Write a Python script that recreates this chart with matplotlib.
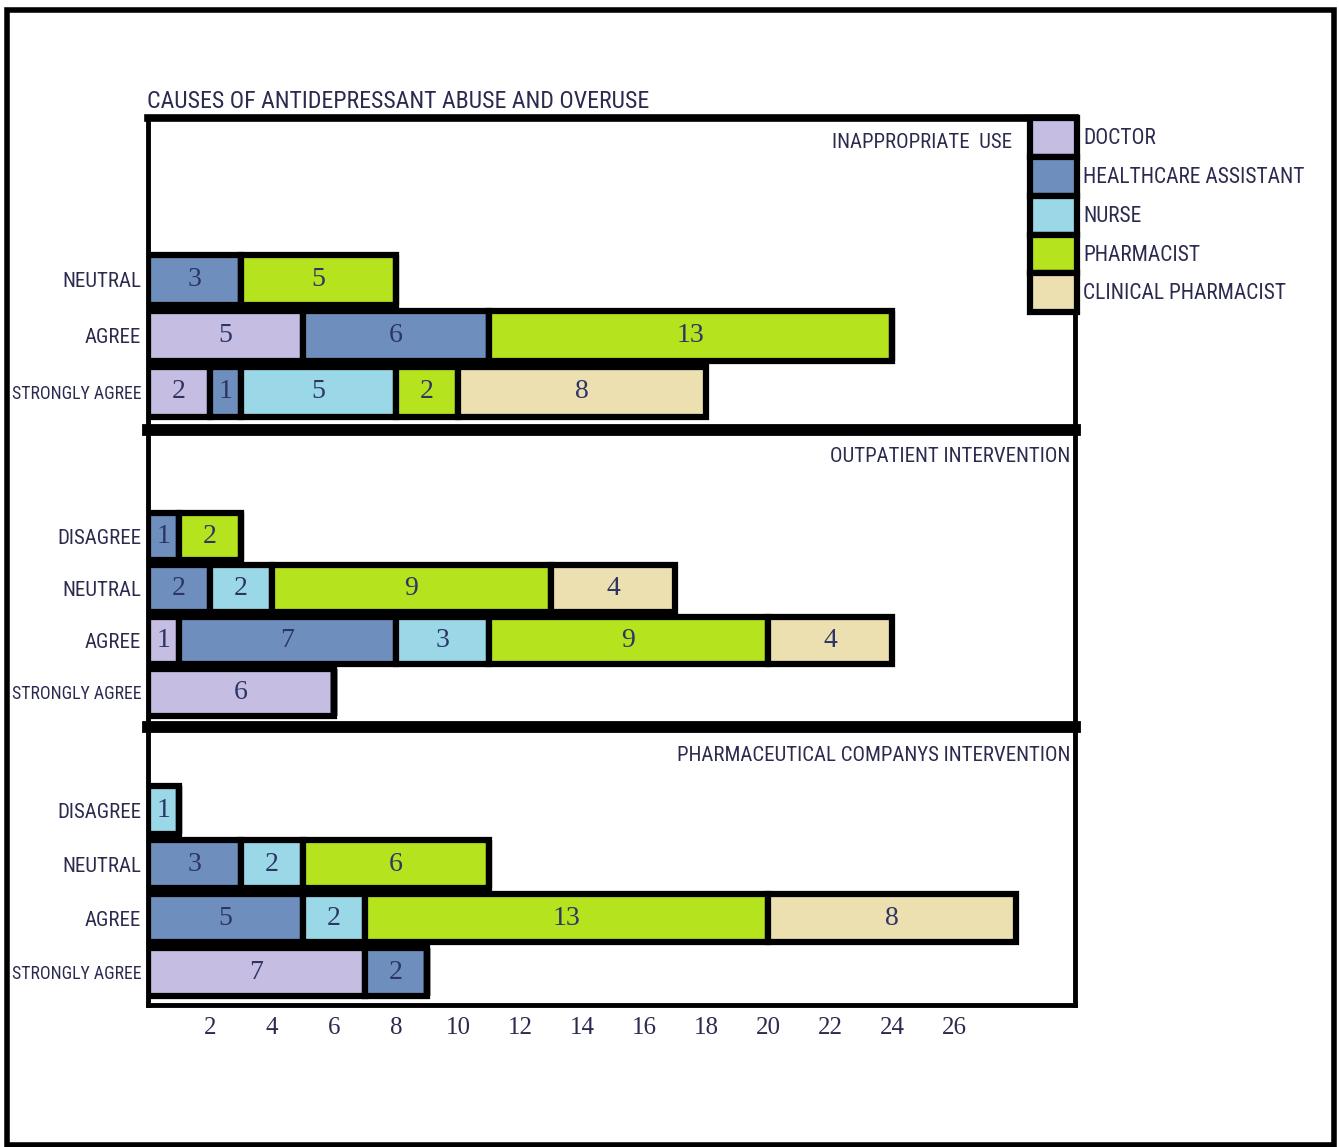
import matplotlib
matplotlib.use("Agg")
import matplotlib.pyplot as plt
from matplotlib.patches import Rectangle, Patch
import numpy as np

roles = ["DOCTOR", "HEALTHCARE ASSISTANT", "NURSE", "PHARMACIST", "CLINICAL PHARMACIST"]
colors = ["#c5bde2", "#6e8fbd", "#9ad8e8", "#b5e31e", "#ede0b0"]

# rows listed bottom -> top, columns follow `roles`
inappropriate_rows = ["STRONGLY AGREE", "AGREE", "NEUTRAL"]
inappropriate_counts = [[2, 1, 5, 2, 8],
                        [5, 6, 0, 13, 0],
                        [0, 3, 0, 5, 0]]

outpatient_rows = ["STRONGLY AGREE", "AGREE", "NEUTRAL", "DISAGREE"]
outpatient_counts = [[6, 0, 0, 0, 0],
                     [1, 7, 3, 9, 4],
                     [0, 2, 2, 9, 4],
                     [0, 1, 0, 2, 0]]

pharma_rows = ["STRONGLY AGREE", "AGREE", "NEUTRAL", "DISAGREE"]
pharma_counts = [[7, 2, 0, 0, 0],
                 [0, 5, 2, 13, 8],
                 [0, 3, 2, 6, 0],
                 [0, 0, 1, 0, 0]]

panel_titles = ["INAPPROPRIATE  USE", "OUTPATIENT INTERVENTION",
                "PHARMACEUTICAL COMPANYS INTERVENTION"]
x_ticks = [2, 4, 6, 8, 10, 12, 14, 16, 18, 20, 22, 24, 26]

TXT = "#2b2a4f"
NARROW = ["Roboto Condensed", "DejaVu Sans"]
SERIF = ["Liberation Serif", "DejaVu Serif"]

fig = plt.figure(figsize=(13.39, 11.47), dpi=100)
W, H = 1339, 1147

# outer frame
fig.patches.append(Rectangle((0.005, 0.002), 0.991, 0.989, transform=fig.transFigure,
                             fill=False, edgecolor="black", linewidth=4))


def add_panel(top_px, bot_px, ylim):
    ax = fig.add_axes([148 / W, 1 - bot_px / H, (1075 - 148) / W, (bot_px - top_px) / H])
    ax.set_facecolor("none")
    ax.set_xlim(0, 29.9)
    ax.set_ylim(*ylim)
    return ax


panels = [
    (add_panel(118, 430, (-0.68, 4.89)), inappropriate_rows, inappropriate_counts),
    (add_panel(430, 727, (-0.67, 5.04)), outpatient_rows, outpatient_counts),
    (add_panel(727, 1005, (-0.61, 4.54)), pharma_rows, pharma_counts),
]
title_pos = [(0.932, 0.923), (0.995, 0.912), (0.995, 0.896)]

for i, (ax, rows, counts) in enumerate(panels):
    counts = np.array(counts)
    y = np.arange(len(rows))
    left = np.zeros(len(rows))
    for j, role in enumerate(roles):
        vals = counts[:, j]
        bars = ax.barh(y, vals, left=left, height=0.9, color=colors[j],
                       edgecolor="black", linewidth=4.5, zorder=2)
        labels = [str(v) if v > 0 else "" for v in vals]
        ax.bar_label(bars, labels=labels, label_type="center", color="#2d3566",
                     fontsize=20, family=SERIF)
        left += vals

    ax.set_yticks(y, rows)
    ax.tick_params(axis="y", length=0, pad=5)
    for lab in ax.get_yticklabels():
        lab.set_family(NARROW)
        lab.set_fontsize(12.8 if lab.get_text() == "STRONGLY AGREE" else 15)
        lab.set_color(TXT)

    for side in ["left", "right"]:
        ax.spines[side].set_linewidth(3.5)
    ax.spines["top"].set_visible(i == 0)
    ax.spines["top"].set_linewidth(5.5)
    ax.spines["bottom"].set_linewidth(8.5 if i < 2 else 3.5)

    if i < 2:
        ax.set_xticks([])
    else:
        ax.set_xticks(x_ticks)
        ax.tick_params(axis="x", length=0, pad=9)
        for lab in ax.get_xticklabels():
            lab.set_family(SERIF)
            lab.set_fontsize(18)
            lab.set_color(TXT)

    tx, ty = title_pos[i]
    ax.text(tx, ty, panel_titles[i], transform=ax.transAxes, ha="right", va="center",
            family=NARROW, fontsize=15, color=TXT)

fig.text(147 / W, 1 - 101 / H, "CAUSES OF ANTIDEPRESSANT ABUSE AND OVERUSE",
         ha="left", va="center", family=NARROW, fontsize=17.2, color=TXT)

handles = [Patch(facecolor=c, edgecolor="black", linewidth=4.5, label=r)
           for c, r in zip(colors, roles)]
fig.legend(handles=handles, loc="upper left", bbox_to_anchor=(1030 / W, 1 - 118 / H),
           frameon=False, handlelength=2.16, handleheight=2.4, labelspacing=0.0,
           handletextpad=0.3, borderpad=0, borderaxespad=0,
           prop={"family": NARROW, "size": 15.5}, labelcolor=TXT)

fig.savefig("out.png", dpi=100, facecolor="white")
